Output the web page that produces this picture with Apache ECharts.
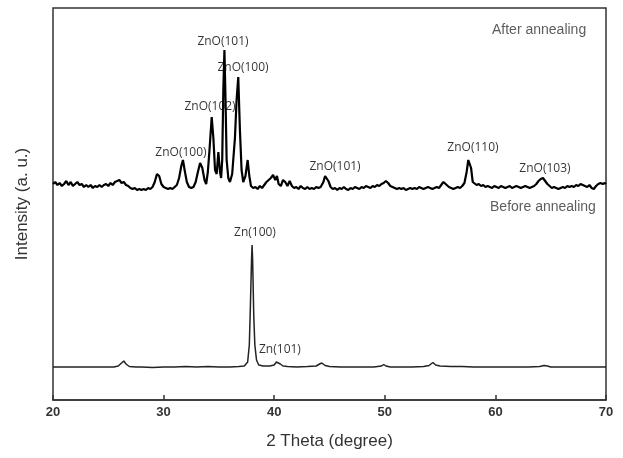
<!DOCTYPE html>
<html>
<head>
<meta charset="utf-8">
<title>XRD</title>
<script src="https://cdn.jsdelivr.net/npm/echarts@6/dist/echarts.min.js"></script>
<style>
  html, body { margin: 0; padding: 0; background: #fff; }
  #main { width: 623px; height: 458px; }
</style>
</head>
<body>
<div id="main"></div>
<script type="text/javascript">

// x-axis ticks (2 theta, degree)
var xTicks = [20, 30, 40, 50, 60, 70];

// after annealing trace: [2theta, intensity]
var afterAnneal = [
  [20.0,216],[20.2,218],[20.4,215],[20.6,217],[20.8,214],[21.0,216],[21.2,219],[21.4,215],[21.6,218],[21.8,214],
  [22.0,216],[22.2,218],[22.4,215],[22.6,216],[22.8,213],[23.0,215],[23.2,213],[23.4,215],[23.6,212],[23.8,214],
  [24.0,213],[24.2,215],[24.4,213],[24.6,215],[24.8,216],[25.0,214],[25.2,217],[25.4,215],[25.6,218],[25.8,219],
  [26.0,220],[26.2,217],[26.4,218],[26.6,215],[26.8,214],[27.0,212],[27.2,211],[27.4,212],[27.6,210],[27.8,211],
  [28.0,210],[28.2,211],[28.4,210],[28.6,212],[28.8,211],[29.0,213],[29.2,218],[29.4,226],[29.5,228],[29.6,224],
  [29.8,216],[30.0,213],[30.2,212],[30.4,211],[30.6,212],[30.8,211],[31.0,213],[31.2,215],[31.4,222],[31.6,234],
  [31.75,240],[31.9,230],[32.1,218],[32.3,213],[32.5,212],[32.7,213],[32.9,218],[33.1,228],[33.3,237],[33.5,232],
  [33.7,220],[33.85,216],[34.0,228],[34.15,250],[34.35,283],[34.5,262],[34.65,230],[34.8,226],[34.95,248],[35.1,228],
  [35.2,222],[35.3,240],[35.4,310],[35.5,350],[35.6,300],[35.7,240],[35.85,222],[36.0,218],[36.2,226],[36.45,262],
  [36.6,300],[36.75,323],[36.9,270],[37.05,230],[37.2,218],[37.4,224],[37.6,240],[37.75,224],[37.9,214],[38.1,212],
  [38.3,213],[38.5,211],[38.7,214],[38.9,212],[39.1,215],[39.3,218],[39.5,220],[39.7,222],[39.9,225],[40.1,220],
  [40.25,224],[40.4,216],[40.6,214],[40.8,220],[41.0,218],[41.2,214],[41.4,219],[41.6,214],[41.8,212],[42.0,213],
  [42.2,211],[42.4,214],[42.6,212],[42.8,211],[43.0,213],[43.2,211],[43.4,212],[43.6,211],[43.8,213],[44.0,212],
  [44.2,213],[44.45,218],[44.6,224],[44.75,226],[44.9,219],[45.1,213],[45.3,211],[45.5,212],[45.7,210],[45.9,212],
  [46.1,211],[46.3,213],[46.5,211],[46.7,210],[46.9,212],[47.1,211],[47.3,213],[47.5,212],[47.7,211],[47.9,213],
  [48.1,212],[48.3,214],[48.5,213],[48.7,212],[48.9,214],[49.1,213],[49.3,215],[49.5,214],[49.7,216],[49.9,217],
  [50.1,219],[50.3,217],[50.5,214],[50.7,213],[50.9,212],[51.1,211],[51.3,212],[51.5,211],[51.7,212],[51.9,210],
  [52.1,211],[52.3,212],[52.5,211],[52.7,212],[52.9,211],[53.1,213],[53.3,212],[53.5,211],[53.7,212],[53.9,213],
  [54.1,212],[54.3,211],[54.5,212],[54.7,213],[54.9,212],[55.1,215],[55.3,218],[55.45,219],[55.6,215],[55.8,213],
  [56.0,212],[56.2,211],[56.4,212],[56.6,213],[56.8,212],[57.0,214],[57.2,217],[57.4,228],[57.55,240],[57.7,242],
  [57.8,232],[57.95,218],[58.1,216],[58.3,215],[58.5,216],[58.7,214],[58.9,215],[59.1,213],[59.3,214],[59.5,213],
  [59.7,212],[59.9,214],[60.1,213],[60.3,212],[60.5,214],[60.7,213],[60.9,212],[61.1,213],[61.3,214],[61.5,212],
  [61.7,213],[61.9,214],[62.1,213],[62.3,212],[62.5,213],[62.7,214],[62.9,213],[63.1,212],[63.3,213],[63.5,214],
  [63.7,216],[63.9,219],[64.1,221],[64.3,222],[64.5,219],[64.7,216],[64.9,214],[65.1,212],[65.3,213],[65.5,212],
  [65.7,211],[65.9,212],[66.1,213],[66.3,212],[66.5,214],[66.7,213],[66.9,214],[67.1,213],[67.3,215],[67.5,214],
  [67.7,216],[67.9,215],[68.1,214],[68.3,213],[68.5,215],[68.7,212],[68.9,211],[69.1,214],[69.3,216],[69.5,217],
  [69.7,216],[69.9,217],[70.0,216]
];

// before annealing trace
var beforeAnneal = [
  [20.0,33],[25.5,33],[25.9,34],[26.2,37],[26.4,39],[26.6,36],[26.9,33.5],[27.5,33],[28.0,33],[29.0,32.5],
  [30.0,33],[31.0,33],[32.0,33.5],[33.0,33],[34.0,33.5],[35.0,33],[36.0,33],[36.8,33.5],[37.3,34],[37.6,38],
  [37.75,55],[37.85,95],[37.95,140],[38.0,155],[38.05,140],[38.15,85],[38.25,55],[38.4,40],[38.6,35],[39.0,34],
  [39.6,34],[40.0,35],[40.2,38],[40.35,39.5],[40.55,36],[40.8,34],[41.2,33.5],[42.0,33],[43.0,33.5],[43.8,34],
  [44.1,36],[44.3,37],[44.6,34.5],[45.0,33.5],[46.0,33],[47.0,33],[48.0,33],[49.0,33],[49.7,34],[49.9,35.5],
  [50.1,34],[50.5,33],[51.5,33],[52.5,33],[53.5,33.5],[54.0,34.5],[54.35,37.5],[54.6,35],[55.0,34],[56.0,33.5],
  [57.0,33.5],[58.0,33],[59.0,33],[60.0,33],[61.0,33],[62.0,33],[63.0,33],[64.0,33.5],[64.4,34.5],[64.7,34],
  [65.0,33],[66.0,33],[67.0,33],[68.0,33],[69.0,33],[70.0,33]
];

// peak labels: [2theta, intensity, text]
var peakLabels = [
  [35.37,358,'ZnO(101)'],
  [37.18,332,'ZnO(100)'],
  [34.20,293,'ZnO(102)'],
  [31.57,247,'ZnO(100)'],
  [45.50,233,'ZnO(101)'],
  [57.97,252,'ZnO(110)'],
  [64.48,231,'ZnO(103)'],
  [38.26,167,'Zn(100)'],
  [40.52,50,'Zn(101)']
];

// trace captions
var captions = [
  [63.95,370,'After annealing'],
  [64.3,193,'Before annealing']
];

var myChart = echarts.init(document.getElementById('main'));

var option = {
  backgroundColor: '#fff',
  animation: false,
  grid: {
    left: 53, right: 17, top: 8, bottom: 58,
    show: true, borderColor: '#333', borderWidth: 1.5
  },
  xAxis: {
    type: 'value',
    min: xTicks[0], max: xTicks[xTicks.length - 1], interval: 10,
    name: '2 Theta (degree)',
    nameLocation: 'middle',
    nameGap: 33,
    nameTextStyle: { fontFamily: 'Liberation Sans', fontSize: 17, color: '#333' },
    axisLine: { lineStyle: { color: '#333', width: 1.5 } },
    axisTick: { inside: true, length: 5, lineStyle: { color: '#333', width: 1.5 } },
    axisLabel: { margin: 6, fontFamily: 'Liberation Sans', fontSize: 13, fontWeight: 'bold', color: '#333' },
    splitLine: { show: false }
  },
  yAxis: {
    type: 'value',
    min: 0, max: 392,
    name: 'Intensity (a. u.)',
    nameLocation: 'middle',
    nameGap: 22,
    nameTextStyle: { fontFamily: 'Liberation Sans', fontSize: 17, color: '#333' },
    axisLine: { show: false },
    axisTick: { show: false },
    axisLabel: { show: false },
    splitLine: { show: false }
  },
  series: [
    {
      name: 'After annealing',
      type: 'line',
      data: afterAnneal,
      showSymbol: false,
      lineStyle: { color: '#000', width: 2.2 },
      z: 3
    },
    {
      name: 'Before annealing',
      type: 'line',
      data: beforeAnneal,
      showSymbol: false,
      lineStyle: { color: '#222', width: 1.5 },
      z: 3
    },
    {
      type: 'scatter',
      data: peakLabels,
      symbolSize: 0,
      silent: true,
      z: 5,
      label: {
        show: true,
        position: 'inside',
        formatter: function (p) { return p.data[2]; },
        fontFamily: 'Open Sans',
        fontSize: 12,
        color: '#000'
      }
    },
    {
      type: 'scatter',
      data: captions,
      symbolSize: 0,
      silent: true,
      z: 5,
      label: {
        show: true,
        position: 'inside',
        formatter: function (p) { return p.data[2]; },
        fontFamily: 'Liberation Sans',
        fontSize: 14,
        color: '#333'
      }
    }
  ]
};

myChart.setOption(option);
</script>
</body>
</html>
